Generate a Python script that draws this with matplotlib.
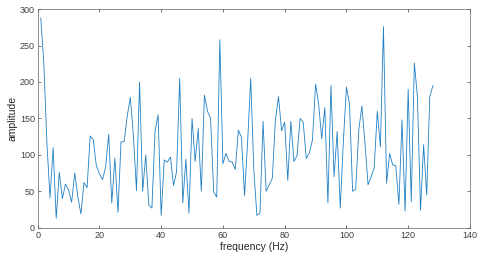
import numpy as np
import matplotlib
matplotlib.use('Agg')
import matplotlib.pyplot as plt

# frequency bins (Hz) and amplitude
freq = np.arange(1, 129)
amplitude = [
    288, 225, 115, 41, 110, 13, 76, 40, 60, 52,
    35, 75, 43, 19, 62, 55, 126, 121, 85, 74,
    66, 83, 128, 34, 96, 21, 118, 118, 153, 179,
    127, 51, 200, 50, 100, 31, 27, 132, 155, 17,
    93, 90, 97, 58, 77, 205, 34, 94, 20, 150,
    91, 136, 50, 182, 160, 150, 49, 42, 258, 88,
    102, 91, 90, 80, 134, 124, 44, 118, 205, 80,
    17, 20, 146, 50, 59, 68, 148, 180, 133, 145,
    65, 146, 91, 99, 150, 145, 95, 103, 120, 197,
    170, 122, 165, 34, 195, 70, 132, 27, 118, 193,
    170, 50, 53, 134, 167, 117, 59, 70, 82, 160,
    111, 276, 61, 102, 86, 85, 32, 148, 23, 190,
    36, 226, 180, 24, 114, 45, 180, 195,
]

plt.rcParams['font.family'] = ['Liberation Sans', 'DejaVu Sans']

fig = plt.figure(figsize=(4.8, 2.6), dpi=100)
ax = fig.add_axes([0.0785, 0.124, 0.9005, 0.841])
ax.plot(freq, amplitude, color='#1f7fc4', linewidth=0.6)

ax.set_xlim(0, 140)
ax.set_ylim(0, 300)
ax.set_xticks(np.arange(0, 141, 20))
ax.set_yticks(np.arange(0, 301, 50))
ax.set_xlabel('frequency (Hz)', fontsize=7.5, color='#262626', labelpad=2)
ax.set_ylabel('amplitude', fontsize=7.5, color='#262626', labelpad=2)

ax.tick_params(direction='in', top=True, right=True, length=2.5, width=0.5,
               labelsize=6.5, colors='#404040', pad=2)
for s in ax.spines.values():
    s.set_color('#606060')
    s.set_linewidth(0.5)

fig.savefig('out.png', dpi=100)
